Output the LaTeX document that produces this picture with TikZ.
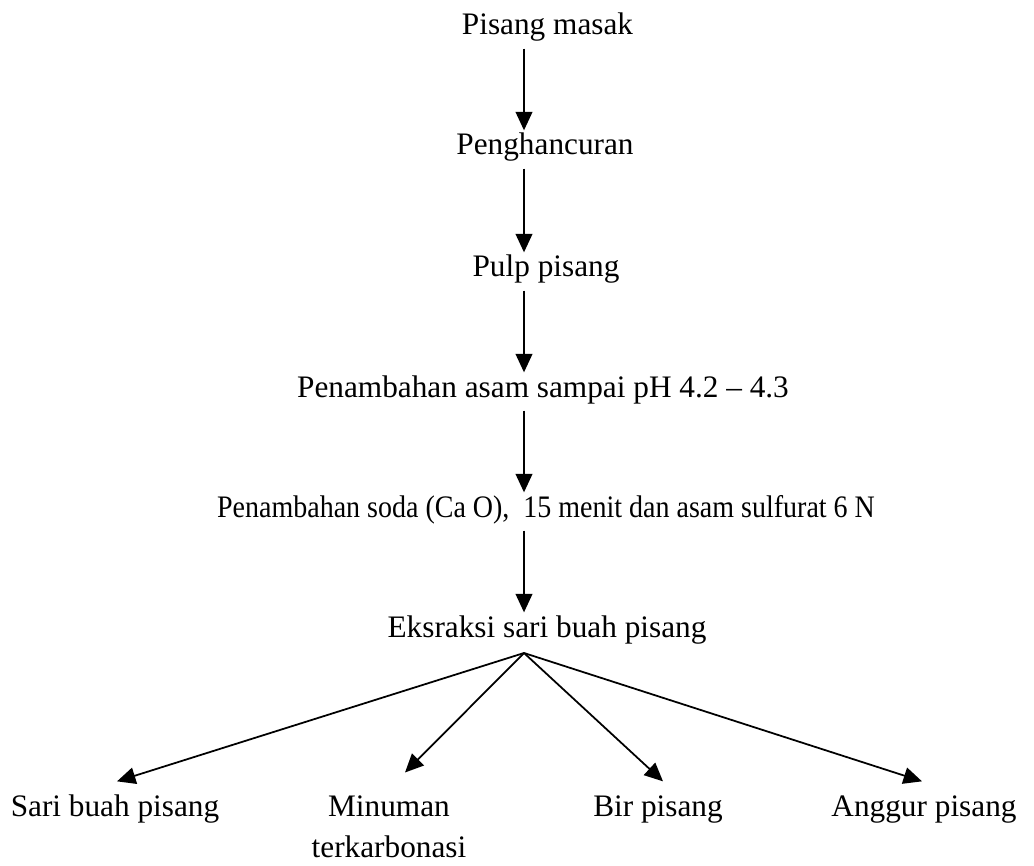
\documentclass[tikz,border=0pt]{standalone}
\usepackage{fontspec}
\setmainfont{Liberation Serif}
\usetikzlibrary{arrows.meta}

\tikzset{
  langkah/.style={inner sep=0pt,anchor=base,text height=0.7em,text depth=0.25em},
  panah/.style={line width=1pt,-{Triangle[length=10.5pt,width=9.5pt]}},
  turun/.style={panah,shorten <=0.18cm,shorten >=0.24cm},
}

\begin{document}
\begin{tikzpicture}[font=\fontsize{17.8}{23.3}\selectfont]
\useasboundingbox (0,0) rectangle (20.68,-17.3);

\coordinate (spine) at (10.48,0);

\node[langkah] (pisang) at (10.95,-0.70) {Pisang masak};
\node[langkah] (hancur) at (10.90,-3.10) {Penghancuran};
\node[langkah] (pulp) at (10.92,-5.54) {Pulp pisang};
\node[langkah] (asam) at (10.86,-7.94) {Penambahan asam sampai pH 4.2 -- 4.3};
\node[langkah] (soda) at (10.92,-10.34) {\scalebox{0.895}[1]{Penambahan soda (Ca O),\ \ 15 menit dan asam sulfurat 6 N}};
\node[langkah] (ekstrak) at (10.94,-12.74) {Eksraksi sari buah pisang};

\coordinate (fork) at (10.48,-13.06);

\node[langkah] (sari) at (2.30,-16.32) {Sari buah pisang};
\node[inner sep=0pt,anchor=north,align=center] (minuman) at (7.78,-15.91) {Minuman\\terkarbonasi};
\node[langkah] (bir) at (13.16,-16.32) {Bir pisang};
\node[langkah] (anggur) at (18.48,-16.32) {Anggur pisang};

% alur utama
\draw[turun] (pisang.south -| spine) -- (hancur.north -| spine);
\draw[turun] (hancur.south -| spine) -- (pulp.north -| spine);
\draw[turun] (pulp.south -| spine) -- (asam.north -| spine);
\draw[turun] (asam.south -| spine) -- (soda.north -| spine);
\draw[turun] (soda.south -| spine) -- (ekstrak.north -| spine);

% cabang produk
\draw[panah] (fork) -- ([xshift=0.04cm,yshift=0.44cm]sari.north);
\draw[panah] (fork) -- ([xshift=0.32cm,yshift=0.46cm]minuman.north);
\draw[panah] (fork) -- ([xshift=0.10cm,yshift=0.44cm]bir.north);
\draw[panah] (fork) -- ([xshift=-0.04cm,yshift=0.44cm]anggur.north);
\end{tikzpicture}
\end{document}
